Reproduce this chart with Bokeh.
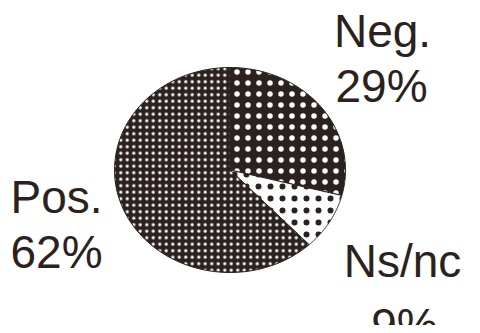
import numpy as np
from bokeh.plotting import figure
from bokeh.models import Range1d, ColumnDataSource
from bokeh.core.properties import value
from bokeh.embed import file_html
from bokeh.resources import INLINE

# ---- data ----
labels = ["Neg.", "Ns/nc", "Pos."]
shares = [29, 9, 62]
percent_labels = [f"{s}%" for s in shares]

# ---- style / layout ----
DARK = "#2b2220"
fills = [DARK, "white", DARK]
hatch_colors = ["white", DARK, "white"]
hatch_scales = [11, 12, 6.5]
hatch_weights = [0.5, 0.5, 0.5]
cx, cy = 237.5, -177.5      # pie centre (screen-like coords)
rx, ry = 115.5, 102.5       # ellipse radii
name_pos = [(390, -38), (410, -268), (64, -204)]
pct_pos = [(389, -93), (412, -332), (64, -259)]

p = figure(width=472, height=325, output_backend="svg", toolbar_location=None,
           x_range=Range1d(8, 480), y_range=Range1d(-333, -8),
           min_border=0)
p.axis.visible = False
p.grid.visible = False
p.outline_line_color = None
p.background_fill_color = "white"
p.border_fill_color = "white"

total = sum(shares)
start = np.pi / 2
xs, ys = [], []
for s in shares:
    sweep = 2 * np.pi * s / total
    t = np.linspace(start, start - sweep, 80)
    xs.append(np.concatenate([[cx], cx + rx * np.cos(t)]))
    ys.append(np.concatenate([[cy], cy + ry * np.sin(t)]))
    start -= sweep

src = ColumnDataSource(dict(xs=xs, ys=ys, fill=fills, hc=hatch_colors,
                            hs=hatch_scales, hw=hatch_weights))
p.patches("xs", "ys", source=src, fill_color="fill", line_color=DARK,
          line_width=1, hatch_pattern="dot", hatch_color="hc",
          hatch_scale="hs", hatch_weight="hw")

tsrc = ColumnDataSource(dict(
    x=[q[0] for q in name_pos], y=[q[1] for q in name_pos], t=labels,
    x2=[q[0] for q in pct_pos], y2=[q[1] for q in pct_pos], t2=percent_labels))
p.text("x", "y", text="t", source=tsrc, text_font=value("Liberation Sans"),
       text_font_size="46px", text_color=DARK, text_align="center",
       text_baseline="alphabetic")
p.text("x2", "y2", text="t2", source=tsrc, text_font=value("Liberation Sans"),
       text_font_size="46px", text_color=DARK, text_align="center",
       text_baseline="alphabetic")

open("out.html", "w").write(file_html(p, INLINE))
